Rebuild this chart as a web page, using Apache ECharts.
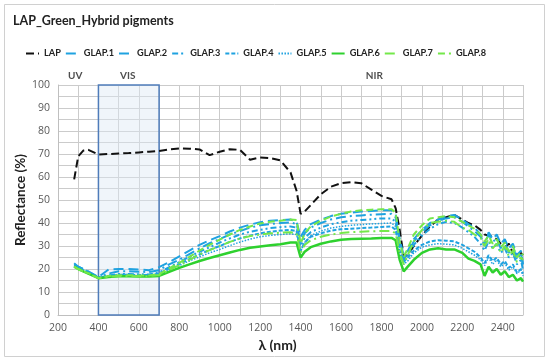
<!DOCTYPE html>
<html><head><meta charset="utf-8">
<script src="https://cdn.jsdelivr.net/npm/echarts@6/dist/echarts.min.js"></script>
<style>html,body{margin:0;padding:0;background:#fff}#c{width:550px;height:362px}</style>
</head><body><div id="c"></div>
<script>
const wl = [280,300,325,350,400,450,500,550,600,650,700,750,800,850,900,950,1000,1050,1100,1150,1200,1250,1300,1350,1380,1400,1420,1450,1500,1550,1600,1650,1700,1750,1800,1850,1870,1890,1910,1930,1960,2000,2040,2080,2120,2160,2200,2230,2260,2290,2310,2330,2350,2370,2390,2410,2430,2450,2470,2490,2500];
const LAP = [59,69,71.5,71.8, 69.8,70,70.2,70.4,70.7,71,71.3,72,72.4,72.3,72,69.5,71,72.1,71.8,67.5,68.5,68.2,67.2,62, 54,44,45,47.8, 52.5,55.8,57.3,57.8,57.3,54.5,51.8,50.3, 46.5,37,25.5,26,30, 34.5,38.5,41.5,42.5,43.5,41.5, 40,39,37, 35,34.5,34,33,31,29.5,31,27,25.5,27, 26];
const GLAP1 = [22.5,21,20,18.8, 16.3,18,19,19,18.8,18.7,19.5,22,24,26.5,29,31.2,33,35,36.5,38,39,39.5,40,40.3, 39.5,32,35.5,38, 40,41.5,42.5,43,43.3,43.6,43.8,44, 42.5,31,24,27,32, 36,39,41,42,42.5,40.5, 38.5,36.5,34, 31,35,32,33,29,32,27,30,24,27, 21];
const GLAP2 = [22,21,20,19, 16.5,19.8,20,20,19.8,19.5,20.8,23,25.5,28,30.5,32.5,34.3,36.3,38,39.3,40.3,41,41.3,41.5, 40.5,34,37,39.5, 41.5,43,44,44.5,45,45.2,45.5,45.5, 44,33,26,28,33, 37,40,41.5,43,43.5,41.5, 39.5,38,35, 30,36,33,35,31,33,29,31,26,28, 22];
const GLAP3 = [21.5,20.5,19.5,18.5, 16.2,17.2,17.8,17.8,17.7,17.6,18.5,20.8,23,25.3,27.5,29.5,31.5,33.3,35,36.2,37,37.8,38.2,38.5, 38,30,33.5,36, 38,39.5,40.3,41,41.3,41.6,42,42, 40.5,30,23,25.5,30.5, 34.5,37.5,39.5,40.5,40,38, 36,34,31, 28,32,29,31,27,29,25,27,22,24, 19.5];
const GLAP4 = [21.5,20.5,19.3,18.3, 16.2,17,17.5,17.5,17.4,17.4,18,20.3,22.2,24.3,26.3,28.3,30,31.8,33.3,34.5,35.5,36.2,36.7,37, 36.5,28,31.5,34, 35.5,36.7,37.3,37.5,37.8,38,38.3,38.5, 37,27,23.5,25,28, 30.5,32,32.5,32.3,32,30.5, 29,27.5,25, 22.5,26,23.5,25,22,23.5,20.5,22,18.5,20, 18];
const GLAP5 = [21,20.3,19.2,18.2, 16,16.8,17.2,17.2,17.1,17.1,17.5,19.6,21.5,23.5,25.3,27,28.5,30.2,31.7,33,34,34.6,35,35.3, 35,28,31.5,34.5, 36.5,37.8,38.5,39,39.3,39.6,39.8,40, 38.5,28,22,23.5,27, 29.5,30.5,31,30.8,30.5,29, 27.5,26,24, 21.5,25,22,24,21,22.5,19.5,21,18,19.5, 17];
const GLAP6 = [21,20,19,18, 16,16.5,16.8,16.8,16.7,16.7,17,18.8,20.5,22,23.5,24.8,26,27.2,28.3,29.2,29.8,30.3,30.8,31.5, 31.5,25,27.5,29.5, 31,32,32.7,33,33.2,33.3,33.5,33.5, 32.5,24,19,21,24, 27,28.5,29,28.5,28.5,27, 24.5,23.5,22, 17,21,18.5,20,17.5,19,16.5,17.5,15,16, 14.5];
const GLAP7 = [21,20,19,18, 16,16.7,17,17,16.9,16.9,17.4,19.5,21.7,24,26.3,28.2,30,31.8,33.2,34.3,35,35.5,35.8,36, 35.5,27,30.5,32.5, 34,35,35.6,36,36.2,36.4,36.5,36.5, 35.5,27,22,26,32, 37,40,40.5,41,40.5,38, 37,35,33.5, 30,33,29,31,27,30,25.5,28,23,25, 24];
const GLAP8 = [21,20,19,18.2, 16,17,17.3,17.3,17.2,17.2,17.8,20.3,22.7,25.3,28,30.5,32.8,35,37,38.5,39.8,40.5,41,41.5, 41.3,31,35.5,38.5, 41,42.8,44,45,45.5,45.8,46,46, 44.5,32,25,29,35, 39,42,42.5,43,42.5,40.5, 39,37.5,35, 32,34.5,31,33,29.5,31.5,27.5,30,25,27.5, 26];
const seriesNames = ['LAP','GLAP.1','GLAP.2','GLAP.3','GLAP.4','GLAP.5','GLAP.6','GLAP.7','GLAP.8'];
const seriesValues = [LAP,GLAP1,GLAP2,GLAP3,GLAP4,GLAP5,GLAP6,GLAP7,GLAP8];
const regionBox = [400, 700];
const regionNames = ['UV','VIS','NIR'];
const regionLabelX = [285, 545, 1765];

const blue = '#1FA2E0', green = '#2ED12E', lgreen = '#74E84A';
const styles = [
  {color:'#111', type:[8,4], width:2},
  {color:blue, type:[10,4,2,4], width:2},
  {color:blue, type:[10,5], width:2},
  {color:blue, type:[6,3,2,3,2,3], width:2},
  {color:blue, type:[4,2], width:2},
  {color:blue, type:[1.5,1.5], width:1.5},
  {color:green, type:'solid', width:2.5},
  {color:lgreen, type:[10,4,2,4], width:2},
  {color:lgreen, type:[7,4], width:2}
];
const series = seriesNames.map((n,i)=>({
  name:n, type:'line', showSymbol:false, symbol:'none', smooth:false, z:3+i,
  data: wl.map((x,j)=>[x, seriesValues[i][j]]),
  lineStyle:styles[i], itemStyle:{color:styles[i].color}
}));
series.push({
  type:'line', data:[], silent:true, z:1,
  markArea:{silent:true, itemStyle:{color:'rgba(222,232,245,0.45)', borderColor:'#4F7CBA', borderWidth:1.5},
    data:[[{coord:[regionBox[0],0]},{coord:[regionBox[1],100]}]]}
});
series.push({
  type:'scatter', silent:true, symbol:'circle', symbolSize:1, clip:false, z:20,
  itemStyle:{color:'rgba(255,255,255,0)'},
  data: regionNames.map((n,i)=>({name:n, value:[regionLabelX[i],103.8]})),
  label:{show:true, position:'inside', formatter:'{b}', color:'#222', fontWeight:'bold', fontSize:10, fontFamily:'Lato'}
});
const chart = echarts.init(document.getElementById('c'));
chart.setOption({
  animation:false,
  backgroundColor:'#fff',
  textStyle:{fontFamily:'Open Sans'},
  graphic:[{type:'rect', shape:{x:4.5,y:4.5,width:540,height:352}, style:{fill:null, stroke:'#D0D0D0', lineWidth:1}, z:-1}],
  title:{text:'LAP_Green_Hybrid pigments', left:8, top:9, textStyle:{fontSize:12.5, fontWeight:'bold', color:'#222', fontFamily:'Lato'}},
  legend:{data:seriesNames, top:44, left:20, itemWidth:13, itemHeight:10, itemGap:4,
    itemStyle:{opacity:0},
    textStyle:{fontSize:9.2, fontWeight:'bold', color:'#222', fontFamily:'Lato'}},
  grid:{left:58, right:27, top:85, bottom:47},
  xAxis:{type:'value', min:200, max:2500, interval:200,
    name:'λ (nm)', nameLocation:'middle', nameGap:22,
    nameTextStyle:{fontSize:14, fontWeight:'bold', color:'#222', fontFamily:'Lato', padding:[0,26,0,0]},
    axisLine:{lineStyle:{color:'#BFBFBF'}}, axisTick:{show:false},
    axisLabel:{color:'#595959', fontSize:10.5, showMaxLabel:false, formatter:v=>String(v)},
    splitLine:{show:true, lineStyle:{color:'#CBCBCB'}},
    minorTick:{show:false, splitNumber:2},
    minorSplitLine:{show:true, lineStyle:{color:'#CBCBCB'}}},
  yAxis:{type:'value', min:0, max:100, interval:10,
    name:'Reflectance (%)', nameLocation:'middle', nameGap:30, nameMoveOverlap:false,
    nameTextStyle:{fontSize:13.5, fontWeight:'bold', color:'#222', fontFamily:'Lato'},
    axisLine:{show:true, lineStyle:{color:'#BFBFBF'}}, axisTick:{show:false},
    axisLabel:{color:'#595959', fontSize:10.5},
    splitLine:{show:true, lineStyle:{color:'#CBCBCB'}},
    minorTick:{show:false, splitNumber:2},
    minorSplitLine:{show:true, lineStyle:{color:'#CBCBCB'}}},
  series:series
});
</script></body></html>
